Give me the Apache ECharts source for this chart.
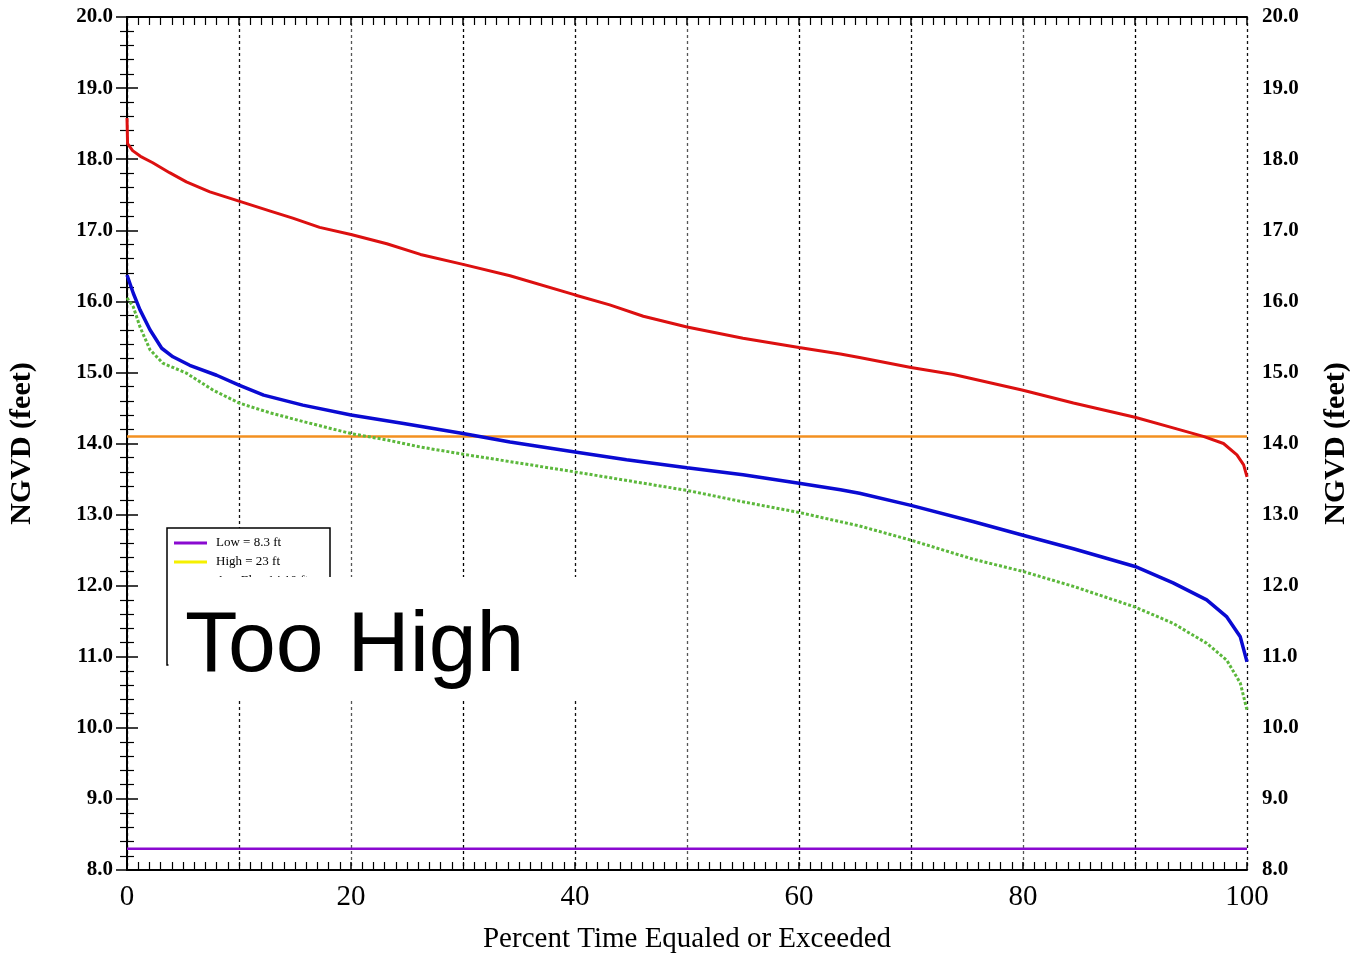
<!DOCTYPE html>
<html>
<head>
<meta charset="utf-8">
<title>Stage duration</title>
<script src="https://cdn.jsdelivr.net/npm/echarts@6/dist/echarts.min.js"></script>
<style>
  html, body { margin: 0; padding: 0; background: #fff; }
  #chart { width: 1350px; height: 953px; }
</style>
</head>
<body>
<div id="chart"></div>
<script>
// percent time equaled or exceeded / stage (ft NGVD)
const redPct = [0, 0.05, 0.5, 1.2, 2.3, 3.8, 5.3, 7.4, 10, 12.8, 14.8, 17.2, 20, 23.2, 26.2, 30, 34.2, 40, 43.1, 46.1, 50, 55, 60, 63.7, 65.4, 70, 73.8, 80, 84.5, 90, 93.4, 96.1, 97.9, 99.1, 99.7, 100]
const redElev = [18.58, 18.22, 18.12, 18.04, 17.95, 17.81, 17.68, 17.54, 17.41, 17.27, 17.17, 17.04, 16.94, 16.81, 16.66, 16.52, 16.36, 16.09, 15.95, 15.79, 15.64, 15.48, 15.35, 15.26, 15.21, 15.07, 14.97, 14.75, 14.57, 14.37, 14.22, 14.1, 14.0, 13.84, 13.7, 13.53]

const bluePct = [0, 0.57, 1.16, 2.05, 3.1, 4.1, 5.6, 8, 10, 12.2, 15.7, 20, 24.7, 30, 34.2, 40, 44.6, 50, 55, 60, 63.7, 65.4, 70, 75.6, 80, 84.5, 90, 93.4, 96.4, 98.2, 99.4, 100]
const blueElev = [16.37, 16.11, 15.88, 15.6, 15.34, 15.22, 15.1, 14.96, 14.82, 14.68, 14.54, 14.4, 14.28, 14.14, 14.02, 13.88, 13.77, 13.66, 13.56, 13.44, 13.35, 13.3, 13.13, 12.9, 12.71, 12.52, 12.27, 12.04, 11.8, 11.56, 11.28, 10.93]

const greenPct = [0, 0.57, 1.16, 2.05, 3.2, 5.3, 7.7, 10, 12.8, 15.7, 20, 23.2, 26.2, 30, 40, 50, 55, 60, 65.4, 70, 75.6, 80, 84.5, 90, 93.4, 96.4, 98.2, 99.4, 100]
const greenElev = [16.05, 15.92, 15.64, 15.32, 15.13, 14.99, 14.75, 14.57, 14.43, 14.31, 14.14, 14.05, 13.95, 13.85, 13.6, 13.34, 13.18, 13.03, 12.84, 12.64, 12.37, 12.2, 11.99, 11.7, 11.47, 11.19, 10.95, 10.63, 10.25]

const lowElev = 8.3
const highElev = 23
const avgElev = 14.1

const serif = 'Liberation Serif, Times New Roman, serif'

function pairs(xs, ys) {
  return xs.map((x, i) => [x, ys[i]])
}

const chart = echarts.init(document.getElementById('chart'))

const yAxisBase = {
  type: 'value',
  min: 8,
  max: 20,
  interval: 1,
  name: 'NGVD (feet)',
  nameLocation: 'middle',
  nameTextStyle: { fontFamily: serif, fontWeight: 'bold', fontSize: 30, color: '#000' },
  axisLine: { show: true, lineStyle: { color: '#000', width: 2 } },
  axisTick: { show: true, inside: true, length: 11, lineStyle: { color: '#000', width: 1.5 } },
  minorTick: { show: true, splitNumber: 5, length: 7, lineStyle: { color: '#000', width: 1.2 } },
  splitLine: { show: false },
  axisLabel: {
    fontFamily: serif,
    fontWeight: 'bold',
    fontSize: 21,
    color: '#000',
    formatter: v => v.toFixed(1)
  }
}

const option = {
  animation: false,
  backgroundColor: '#fff',
  grid: { left: 127, right: 103, top: 17, bottom: 83, outerBoundsMode: 'none' },
  xAxis: [
    {
      type: 'value',
      min: 0,
      max: 100,
      interval: 20,
      position: 'bottom',
      name: 'Percent Time Equaled or Exceeded',
      nameLocation: 'middle',
      nameGap: 55,
      nameTextStyle: { fontFamily: serif, fontSize: 29, color: '#000' },
      axisLine: { lineStyle: { color: '#000', width: 2 } },
      axisTick: { inside: true, length: 8, lineStyle: { color: '#000', width: 1.5 } },
      minorTick: { show: true, splitNumber: 20, length: 8, lineStyle: { color: '#000', width: 1.2 } },
      splitLine: { show: false },
      axisLabel: { fontFamily: serif, fontSize: 29, color: '#000', margin: 13 }
    },
    {
      type: 'value',
      min: 0,
      max: 100,
      interval: 10,
      position: 'top',
      axisLine: { show: true, lineStyle: { color: '#000', width: 2 } },
      axisTick: { show: true, inside: true, length: 8, lineStyle: { color: '#000', width: 1.5 } },
      minorTick: { show: true, splitNumber: 10, length: 8, lineStyle: { color: '#000', width: 1.2 } },
      axisLabel: { show: false },
      splitLine: {
        show: true,
        lineStyle: { color: ['#000', '#111', '#555'], width: 1.3, type: [3, 3] }
      }
    }
  ],
  yAxis: [
    Object.assign({}, yAxisBase, { position: 'left', nameGap: 90, axisLabel: Object.assign({}, yAxisBase.axisLabel, { margin: 14 }) }),
    Object.assign({}, yAxisBase, { position: 'right', nameGap: 74, axisLabel: Object.assign({}, yAxisBase.axisLabel, { margin: 15 }) })
  ],
  legend: {
    orient: 'vertical',
    left: 174,
    top: 536,
    z: 8,
    icon: 'rect',
    itemWidth: 33,
    itemHeight: 3,
    itemGap: 5,
    padding: 0,
    data: ['Low = 8.3 ft', 'High = 23 ft', 'Avg Elev 14.10 ft'],
    textStyle: { fontFamily: serif, fontSize: 13, color: '#000', lineHeight: 14, padding: [0, 0, 0, 4] }
  },
  series: [
    {
      name: 'Low = 8.3 ft',
      type: 'line',
      symbol: 'none',
      data: [[0, lowElev], [100, lowElev]],
      lineStyle: { color: '#8a0ad0', width: 2.5 },
      itemStyle: { color: '#8a0ad0' }
    },
    {
      name: 'High = 23 ft',
      type: 'line',
      symbol: 'none',
      data: [[0, highElev], [100, highElev]],
      lineStyle: { color: '#f5f000', width: 2.5 },
      itemStyle: { color: '#f5f000' }
    },
    {
      name: 'Avg Elev 14.10 ft',
      type: 'line',
      symbol: 'none',
      data: [[0, avgElev], [100, avgElev]],
      lineStyle: { color: '#f39020', width: 2.5 },
      itemStyle: { color: '#f7b84a' }
    },
    {
      name: 'green',
      type: 'line',
      symbol: 'none',
      data: pairs(greenPct, greenElev),
      lineStyle: { color: '#5cb83c', width: 3, type: [3, 2] }
    },
    {
      name: 'blue',
      type: 'line',
      symbol: 'none',
      data: pairs(bluePct, blueElev),
      lineStyle: { color: '#0a0ad2', width: 3.5 }
    },
    {
      name: 'red',
      type: 'line',
      symbol: 'none',
      data: pairs(redPct, redElev),
      lineStyle: { color: '#dc1010', width: 3 }
    }
  ],
  graphic: [
    {
      type: 'rect',
      z: 6,
      shape: { x: 167, y: 528, width: 163, height: 137 },
      style: { fill: '#fff', stroke: '#000', lineWidth: 1.5 }
    },
    {
      type: 'rect',
      z: 20,
      shape: { x: 168.5, y: 577, width: 412, height: 123 },
      style: { fill: '#fff' }
    },
    {
      type: 'text',
      z: 21,
      x: 185,
      y: 690,
      style: {
        text: 'Too High',
        fontFamily: 'Liberation Sans, Arial, sans-serif',
        fontSize: 86,
        fill: '#000',
        textVerticalAlign: 'bottom'
      }
    }
  ]
}

chart.setOption(option)
</script>
</body>
</html>
